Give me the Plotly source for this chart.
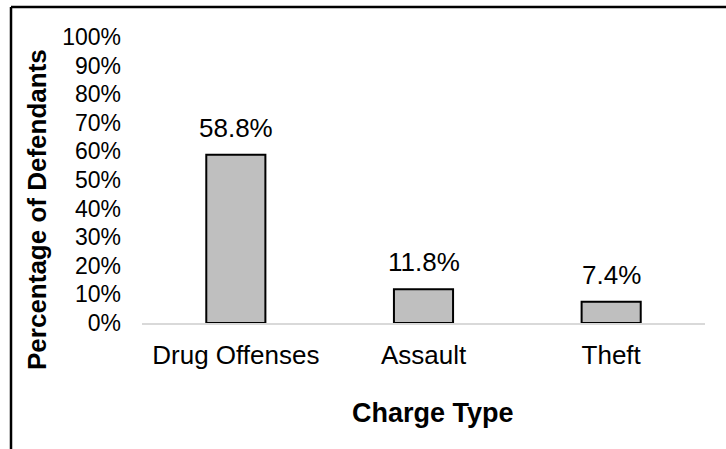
import plotly.graph_objects as go

# Share of defendants by charge type
categories = ["Drug Offenses", "Assault", "Theft"]
shares = [0.588, 0.118, 0.074]
value_labels = ["58.8%", "11.8%", "7.4%"]
y_ticks = [i / 10 for i in range(11)]
y_tick_labels = [f"{i * 10}%" for i in range(11)]

FONT = "Liberation Sans, Arial, sans-serif"
W, H = 726, 449
M_L, M_R, M_T, M_B = 142, 21, 37, 126
PW, PH = W - M_L - M_R, H - M_T - M_B


def px_x(x):
    return (x - M_L) / PW


def px_y(y):
    return 1 - (y - M_T) / PH


fig = go.Figure(
    go.Bar(
        x=categories,
        y=shares,
        width=0.315,
        marker=dict(color="#bfbfbf", line=dict(color="#000000", width=2)),
        hoverinfo="skip",
    )
)

annotations = [
    dict(
        x=c, y=v, xref="x", yref="y", text=t, showarrow=False,
        yanchor="bottom", yshift=10,
        font=dict(family=FONT, size=26, color="#000000"),
    )
    for c, v, t in zip(categories, shares, value_labels)
]
annotations.append(
    dict(
        x=px_x(37), y=px_y(210), xref="paper", yref="paper",
        text="<b>Percentage of Defendants</b>", textangle=-90, showarrow=False,
        font=dict(family=FONT, size=26, color="#000000"),
        xanchor="center", yanchor="middle",
    )
)
annotations.append(
    dict(
        x=px_x(433), y=px_y(413), xref="paper", yref="paper",
        text="<b>Charge Type</b>", showarrow=False,
        font=dict(family=FONT, size=27, color="#000000"),
        xanchor="center", yanchor="middle",
    )
)

# Outer frame: top and left edges of the chart box
shapes = [
    dict(type="line", xref="paper", yref="paper",
         x0=px_x(11), x1=px_x(W + 20), y0=px_y(7), y1=px_y(7),
         line=dict(color="#000000", width=2.5)),
    dict(type="line", xref="paper", yref="paper",
         x0=px_x(11), x1=px_x(11), y0=px_y(7), y1=px_y(H + 20),
         line=dict(color="#000000", width=2.5)),
]

fig.update_layout(
    width=W, height=H,
    margin=dict(l=M_L, r=M_R, t=M_T, b=M_B),
    paper_bgcolor="#ffffff", plot_bgcolor="#ffffff",
    showlegend=False,
    annotations=annotations,
    shapes=shapes,
    font=dict(family=FONT, color="#000000"),
)
fig.update_xaxes(
    showline=True, linecolor="#d9d9d9", linewidth=2,
    showgrid=False, zeroline=False, ticks="",
    tickfont=dict(family=FONT, size=26, color="#000000"),
    ticklabelstandoff=8,
)
fig.update_yaxes(
    range=[0, 1], tickvals=y_ticks, ticktext=y_tick_labels,
    showgrid=False, zeroline=False, showline=False, ticks="",
    tickfont=dict(family=FONT, size=23, color="#000000"),
    ticklabelstandoff=20,
)

fig.write_html("out.html")
